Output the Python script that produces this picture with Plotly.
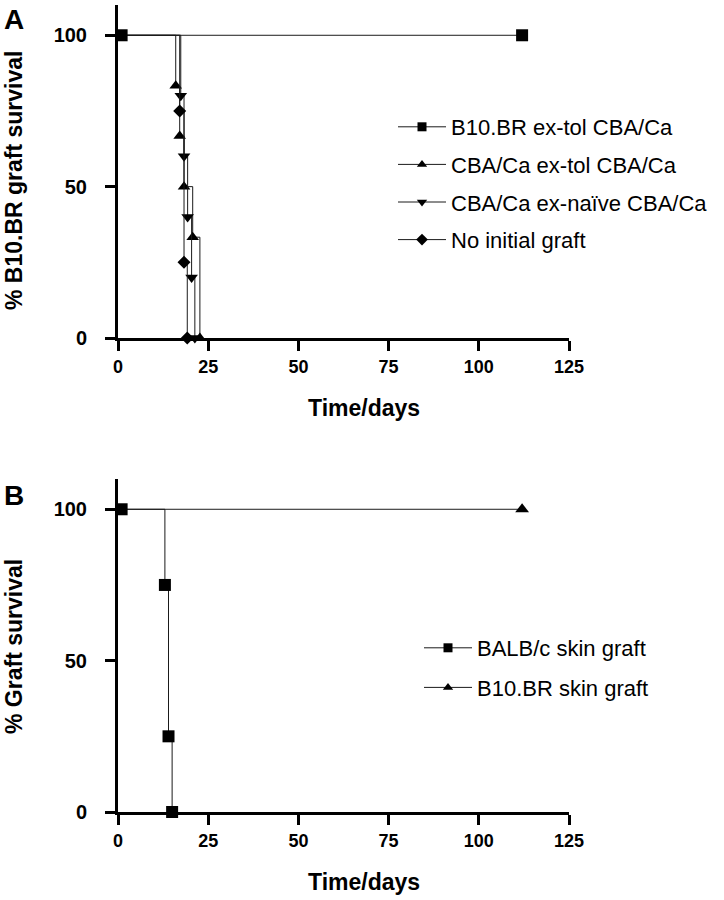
import plotly.graph_objects as go

# ---------------- data ----------------
# Panel A (Kaplan-Meier steps: day, % survival)
a_sq_days = [1, 112]
a_sq_surv = [100, 100]
a_tu_days = [1, 16, 17.1, 18.3, 20.7, 22.7]
a_tu_surv = [100, 83.3, 66.7, 50, 33.3, 0]
a_td_days = [1, 17.4, 18.3, 19.3, 20.4, 21.3]
a_td_surv = [100, 80, 60, 40, 20, 0]
a_di_days = [1, 17.1, 18.3, 19.2]
a_di_surv = [100, 75, 25, 0]
a_names = ["B10.BR ex-tol CBA/Ca", "CBA/Ca ex-tol CBA/Ca",
           "CBA/Ca ex-naïve CBA/Ca", "No initial graft"]

# Panel B
b_sq_days = [1, 13, 14, 15]
b_sq_surv = [100, 75, 25, 0]
b_tr_days = [1, 112]
b_tr_surv = [100, 100]
b_names = ["BALB/c skin graft", "B10.BR skin graft"]

x_ticks = [0, 25, 50, 75, 100, 125]
y_ticks = [0, 50, 100]

# ---------------- geometry ----------------
W, H = 724, 900
ML, MR, MT, MB = 118, 155, 5, 88
PW = W - ML - MR
PH = H - MT - MB


def px_x(sx):
    return (sx - ML) / PW


def px_y(sy):
    return (H - MB - sy) / PH


LINE = dict(color="#1a1a1a", width=1)
FONT = "Liberation Sans, Arial, sans-serif"

fig = go.Figure()


def add_series(xs, ys, sym, sizes, xa, ya):
    fig.add_trace(go.Scatter(
        x=xs, y=ys, mode="lines+markers", line=dict(shape="hv", **LINE),
        marker=dict(symbol=sym, size=sizes, color="black", opacity=1,
                    line=dict(width=0)),
        xaxis=xa, yaxis=ya, showlegend=False, cliponaxis=False,
        hoverinfo="skip"))


def sizes_for(n, s, first=False):
    return [s if first else 0] + [s] * (n - 1)


# Panel A data
add_series(a_tu_days, a_tu_surv, "triangle-up", sizes_for(len(a_tu_days), 11), "x", "y")
add_series(a_td_days, a_td_surv, "triangle-down", sizes_for(len(a_td_days), 11), "x", "y")
add_series(a_di_days, a_di_surv, "diamond", sizes_for(len(a_di_days), 10), "x", "y")
add_series(a_sq_days, a_sq_surv, "square", sizes_for(len(a_sq_days), 12, True), "x", "y")
# Panel B data
add_series(b_tr_days, b_tr_surv, "triangle-up", sizes_for(len(b_tr_days), 12), "x2", "y2")
add_series(b_sq_days, b_sq_surv, "square", sizes_for(len(b_sq_days), 12, True), "x2", "y2")

# legend entries
for name, sym in zip(a_names, ["square", "triangle-up", "triangle-down", "diamond"]):
    fig.add_trace(go.Scatter(
        x=[None], y=[None], mode="lines+markers", name=name,
        line=LINE, marker=dict(symbol=sym, size=9, color="black"),
        legend="legend", legendgroup=name, xaxis="x", yaxis="y"))
for name, sym in zip(b_names, ["square", "triangle-up"]):
    fig.add_trace(go.Scatter(
        x=[None], y=[None], mode="lines+markers", name=name,
        line=LINE, marker=dict(symbol=sym, size=9, color="black"),
        legend="legend2", legendgroup=name, xaxis="x2", yaxis="y2"))

axis_common = dict(showline=True, linecolor="black", linewidth=3,
                   ticks="outside", ticklen=10, tickwidth=3, tickcolor="black",
                   showgrid=False, zeroline=False)
xfont = dict(family=FONT, size=18, color="black", weight="bold")
yfont = dict(family=FONT, size=20, color="black", weight="bold")

plot_h = 333  # px height of each panel (0..110)
dom_a = [1 - plot_h / PH, 1.0]
dom_b = [0.0, plot_h / PH]

fig.update_layout(
    width=W, height=H,
    margin=dict(l=ML, r=MR, t=MT, b=MB),
    plot_bgcolor="white", paper_bgcolor="white",
    xaxis=dict(domain=[0, 1], range=[0, 125], tickvals=x_ticks, anchor="y",
               ticklabelstandoff=0, tickfont=xfont, **axis_common),
    yaxis=dict(domain=dom_a, range=[0, 110], tickvals=y_ticks, anchor="x",
               ticklabelstandoff=14, tickfont=yfont, **axis_common),
    xaxis2=dict(domain=[0, 1], range=[0, 125], tickvals=x_ticks, anchor="y2",
                ticklabelstandoff=0, tickfont=xfont, **axis_common),
    yaxis2=dict(domain=dom_b, range=[0, 110], tickvals=y_ticks, anchor="x2",
                ticklabelstandoff=14, tickfont=yfont, **axis_common),
    legend=dict(x=px_x(393), y=px_y(106), xanchor="left", yanchor="top",
                itemwidth=48, tracegroupgap=6, traceorder="grouped",
                bgcolor="rgba(0,0,0,0)",
                font=dict(family=FONT, size=22, color="black")),
    legend2=dict(x=px_x(419), y=px_y(627), xanchor="left", yanchor="top",
                 itemwidth=48, tracegroupgap=8, traceorder="grouped",
                 bgcolor="rgba(0,0,0,0)",
                 font=dict(family=FONT, size=22, color="black")),
    showlegend=True,
)

title_font = dict(family=FONT, size=23, color="black", weight="bold")
letter_font = dict(family=FONT, size=28, color="black", weight="bold")
annos = [
    dict(text="A", x=px_x(2), y=px_y(2), xanchor="left", yanchor="top", font=letter_font),
    dict(text="B", x=px_x(2), y=px_y(478), xanchor="left", yanchor="top", font=letter_font),
    dict(text="% B10.BR graft survival", x=px_x(14), y=px_y(181), textangle=-90,
         xanchor="center", yanchor="middle", font=title_font),
    dict(text="% Graft survival", x=px_x(14), y=px_y(647), textangle=-90,
         xanchor="center", yanchor="middle", font=title_font),
    dict(text="Time/days", x=px_x(306), y=px_y(408), xanchor="left",
         yanchor="middle", font=title_font),
    dict(text="Time/days", x=px_x(306), y=px_y(882), xanchor="left",
         yanchor="middle", font=title_font),
]
for a in annos:
    fig.add_annotation(xref="paper", yref="paper", showarrow=False, **a)

fig.write_html("out.html",
               config={"displayModeBar": False},
               post_script="document.body.style.margin='0px';"
                           "document.documentElement.style.overflow='hidden';")
